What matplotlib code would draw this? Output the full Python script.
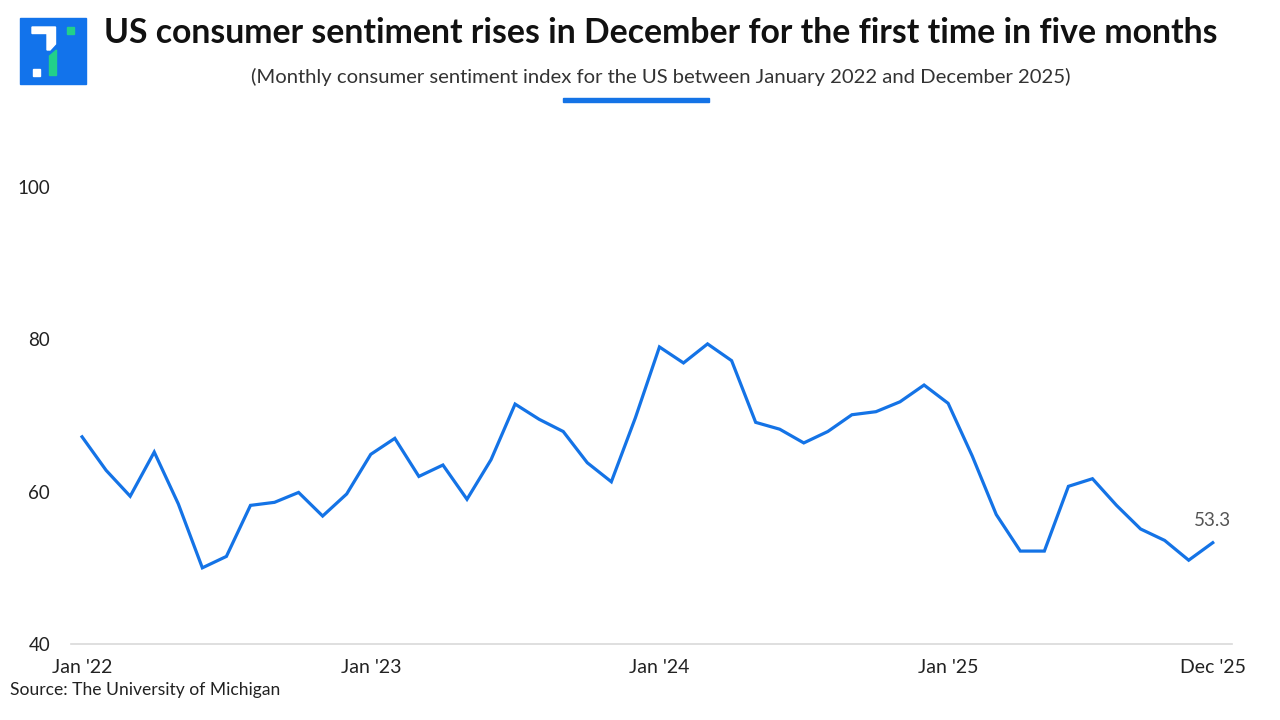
import matplotlib.pyplot as plt
from matplotlib.patches import Rectangle, Polygon

# Monthly consumer sentiment index, Jan 2022 .. Dec 2025
values = [67.2, 62.8, 59.4, 65.2, 58.4, 50.0, 51.5, 58.2, 58.6, 59.9, 56.8, 59.7,
          64.9, 67.0, 62.0, 63.5, 59.0, 64.2, 71.5, 69.5, 67.9, 63.8, 61.3, 69.7,
          79.0, 76.9, 79.4, 77.2, 69.1, 68.2, 66.4, 67.9, 70.1, 70.5, 71.8, 74.0,
          71.6, 64.7, 57.0, 52.2, 52.2, 60.7, 61.7, 58.2, 55.1, 53.6, 51.0, 53.3]
x_ticks = [0, 12, 24, 36, 47]
x_labels = ["Jan '22", "Jan '23", "Jan '24", "Jan '25", "Dec '25"]
y_ticks = [40, 60, 80, 100]

BLUE = '#1473E6'
W, H = 1280, 720

plt.rcParams['font.family'] = ['Lato', 'DejaVu Sans']

fig = plt.figure(figsize=(12.8, 7.2), dpi=100)
ax = fig.add_axes([71 / W, 1 - 644 / H, (1232 - 71) / W, (644 - 187) / H])

x = list(range(len(values)))
ax.plot(x, values, color=BLUE, linewidth=2.3, solid_joinstyle='miter')
ax.annotate(f'{values[-1]:.1f}', (x[-1], values[-1]), xytext=(0, 10),
            textcoords='offset points', ha='center', va='bottom',
            fontsize=13.5, color='#555555')

ax.set_xlim(-0.46, 47.8)
ax.set_ylim(40, 100)
ax.set_xticks(x_ticks)
ax.set_xticklabels(x_labels, fontsize=14, color='#222222')
ax.set_yticks(y_ticks)
ax.set_yticklabels([str(v) for v in y_ticks], fontsize=13.5, color='#222222')
ax.tick_params(length=0)
ax.tick_params(axis='x', pad=11)
ax.tick_params(axis='y', pad=15)
for s in ['top', 'right', 'left']:
    ax.spines[s].set_visible(False)
ax.spines['bottom'].set_color('#d9d9d9')
ax.spines['bottom'].set_linewidth(1.2)


def px(xp, yp):
    return (xp / W, 1 - yp / H)


# logo
fig.patches.append(Rectangle(px(20, 84), 66 / W, 66 / H, transform=fig.transFigure,
                             color='#1273EB', zorder=1))
white_seven = [px(32, 27), px(55.5, 27), px(55.5, 44), px(50, 50), px(47, 50),
               px(47, 33.5), px(32, 33.5)]
fig.patches.append(Polygon(white_seven, closed=True, transform=fig.transFigure,
                           color='white', zorder=2))
fig.patches.append(Rectangle(px(66.5, 33.5), 7 / W, 6.5 / H, transform=fig.transFigure,
                             color='#22D08A', zorder=2))
fig.patches.append(Rectangle(px(32.5, 75.5), 7.5 / W, 7 / H, transform=fig.transFigure,
                             color='white', zorder=2))
green_bar = [px(49.5, 56), px(56.5, 50), px(56.5, 75.5), px(49.5, 75.5)]
fig.patches.append(Polygon(green_bar, closed=True, transform=fig.transFigure,
                           color='#22D08A', zorder=2))

# titles
fig.text(661 / W, 1 - 33 / H, 'US consumer sentiment rises in December for the first time in five months',
         ha='center', va='center', fontsize=24.3, fontweight='bold', color='#111111')
fig.text(661 / W, 1 - 77 / H, '(Monthly consumer sentiment index for the US between January 2022 and December 2025)',
         ha='center', va='center', fontsize=14.6, color='#333333')
fig.patches.append(Rectangle(px(563, 102), 146 / W, 4 / H, transform=fig.transFigure,
                             color=BLUE))

fig.text(10 / W, 1 - 690 / H, 'Source: The University of Michigan',
         ha='left', va='center', fontsize=12.6, color='#222222')

fig.savefig('out.png', dpi=100)
